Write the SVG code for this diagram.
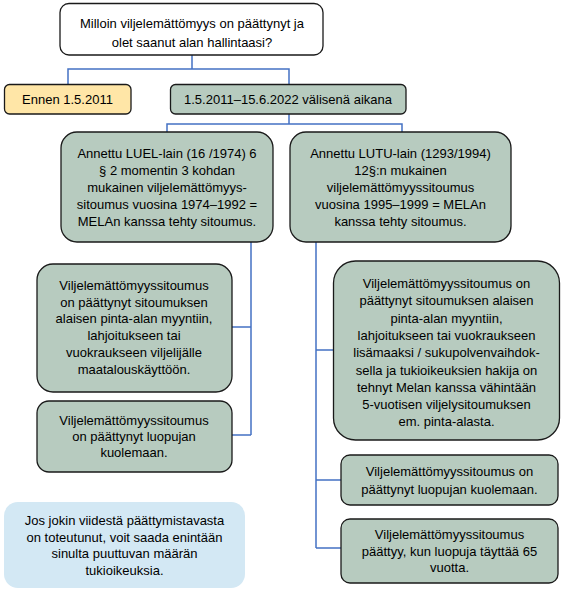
<svg xmlns="http://www.w3.org/2000/svg" width="561" height="593" viewBox="0 0 561 593">
<style>
.t{font-family:"Liberation Sans",Arial,sans-serif;font-size:13px;fill:#000;text-anchor:middle}
.g{fill:#B7CBBF;stroke:#1a1a1a;stroke-width:1.3}
.c{fill:none;stroke:#4472C4;stroke-width:1.5}
</style>
<rect width="561" height="593" fill="#fff"/>
<g id="connectors">
<path class="c" d="M192 55V69M68 84V69H289V84"/>
<path class="c" d="M289 114V124M167 132V124H402V132"/>
<path class="c" d="M251 242V435M232 327H251M232 435H251"/>
<path class="c" d="M316 242V548M316 350H333M316 480H341M316 548H341"/>
</g>
<g id="n-question">
<rect x="60" y="3.5" width="263" height="51.5" rx="9" fill="#fff" stroke="#1a1a1a" stroke-width="1.3"/>
<text class="t" x="192" y="28">Milloin viljelemättömyys on päättynyt ja</text>
<text class="t" x="192" y="47">olet saanut alan hallintaasi?</text>
</g>
<g id="n-ennen">
<rect x="4.5" y="84.5" width="126.5" height="29.5" rx="5" fill="#FFE6A7" stroke="#1a1a1a" stroke-width="1.3"/>
<text class="t" x="67.5" y="104">Ennen 1.5.2011</text>
</g>
<g id="n-period">
<rect class="g" x="170.5" y="84.5" width="235.5" height="29.5" rx="5"/>
<text class="t" x="288" y="104">1.5.2011–15.6.2022 välisenä aikana</text>
</g>
<g id="n-luel">
<rect class="g" x="61" y="132" width="212" height="110" rx="16"/>
<text class="t" x="167" y="158">Annettu LUEL-lain (16 /1974) 6</text>
<text class="t" x="167" y="175">§ 2 momentin 3 kohdan</text>
<text class="t" x="167" y="192">mukainen viljelemättömyys-</text>
<text class="t" x="167" y="209">sitoumus vuosina 1974–1992 =</text>
<text class="t" x="167" y="226">MELAn kanssa tehty sitoumus.</text>
</g>
<g id="n-lutu">
<rect class="g" x="290" y="132" width="221" height="110" rx="16"/>
<text class="t" x="400.5" y="158">Annettu LUTU-lain (1293/1994)</text>
<text class="t" x="400.5" y="175">12§:n mukainen</text>
<text class="t" x="400.5" y="192">viljelemättömyyssitoumus</text>
<text class="t" x="400.5" y="209">vuosina 1995–1999 = MELAn</text>
<text class="t" x="400.5" y="226">kanssa tehty sitoumus.</text>
</g>
<g id="n-left1">
<rect class="g" x="37" y="264" width="195" height="128" rx="16"/>
<text class="t" x="134" y="290">Viljelemättömyyssitoumus</text>
<text class="t" x="134" y="306.7">on päättynyt sitoumuksen</text>
<text class="t" x="134" y="323.4">alaisen pinta-alan myyntiin,</text>
<text class="t" x="134" y="340.1">lahjoitukseen tai</text>
<text class="t" x="134" y="356.8">vuokraukseen viljelijälle</text>
<text class="t" x="134" y="373.5">maatalouskäyttöön.</text>
</g>
<g id="n-left2">
<rect class="g" x="37" y="401" width="195" height="71" rx="12"/>
<text class="t" x="134" y="425">Viljelemättömyyssitoumus</text>
<text class="t" x="134" y="441">on päättynyt luopujan</text>
<text class="t" x="134" y="457">kuolemaan.</text>
</g>
<g id="n-right1">
<rect class="g" x="333.5" y="261" width="226" height="179" rx="22"/>
<text class="t" x="446.5" y="288">Viljelemättömyyssitoumus on</text>
<text class="t" x="446.5" y="305.3">päättynyt sitoumuksen alaisen</text>
<text class="t" x="446.5" y="322.6">pinta-alan myyntiin,</text>
<text class="t" x="446.5" y="339.9">lahjoitukseen tai vuokraukseen</text>
<text class="t" x="446.5" y="357.2">lisämaaksi / sukupolvenvaihdok-</text>
<text class="t" x="446.5" y="374.5">sella ja tukioikeuksien hakija on</text>
<text class="t" x="446.5" y="391.8">tehnyt Melan kanssa vähintään</text>
<text class="t" x="446.5" y="409.1">5-vuotisen viljelysitoumuksen</text>
<text class="t" x="446.5" y="426.4">em. pinta-alasta.</text>
</g>
<g id="n-right2">
<rect class="g" x="341" y="455" width="217" height="50" rx="9"/>
<text class="t" x="449.5" y="475.5">Viljelemättömyyssitoumus on</text>
<text class="t" x="449.5" y="494">päättynyt luopujan kuolemaan.</text>
</g>
<g id="n-right3">
<rect class="g" x="341" y="519" width="217" height="64" rx="9"/>
<text class="t" x="449.5" y="539">Viljelemättömyyssitoumus</text>
<text class="t" x="449.5" y="555.5">päättyy, kun luopuja täyttää 65</text>
<text class="t" x="449.5" y="572">vuotta.</text>
</g>
<g id="n-note">
<rect x="4" y="502" width="241" height="86" rx="14" fill="#D3E8F4"/>
<text class="t" x="124.5" y="525">Jos jokin viidestä päättymistavasta</text>
<text class="t" x="124.5" y="541.5">on toteutunut, voit saada enintään</text>
<text class="t" x="124.5" y="558">sinulta puuttuvan määrän</text>
<text class="t" x="124.5" y="574.5">tukioikeuksia.</text>
</g>
</svg>
